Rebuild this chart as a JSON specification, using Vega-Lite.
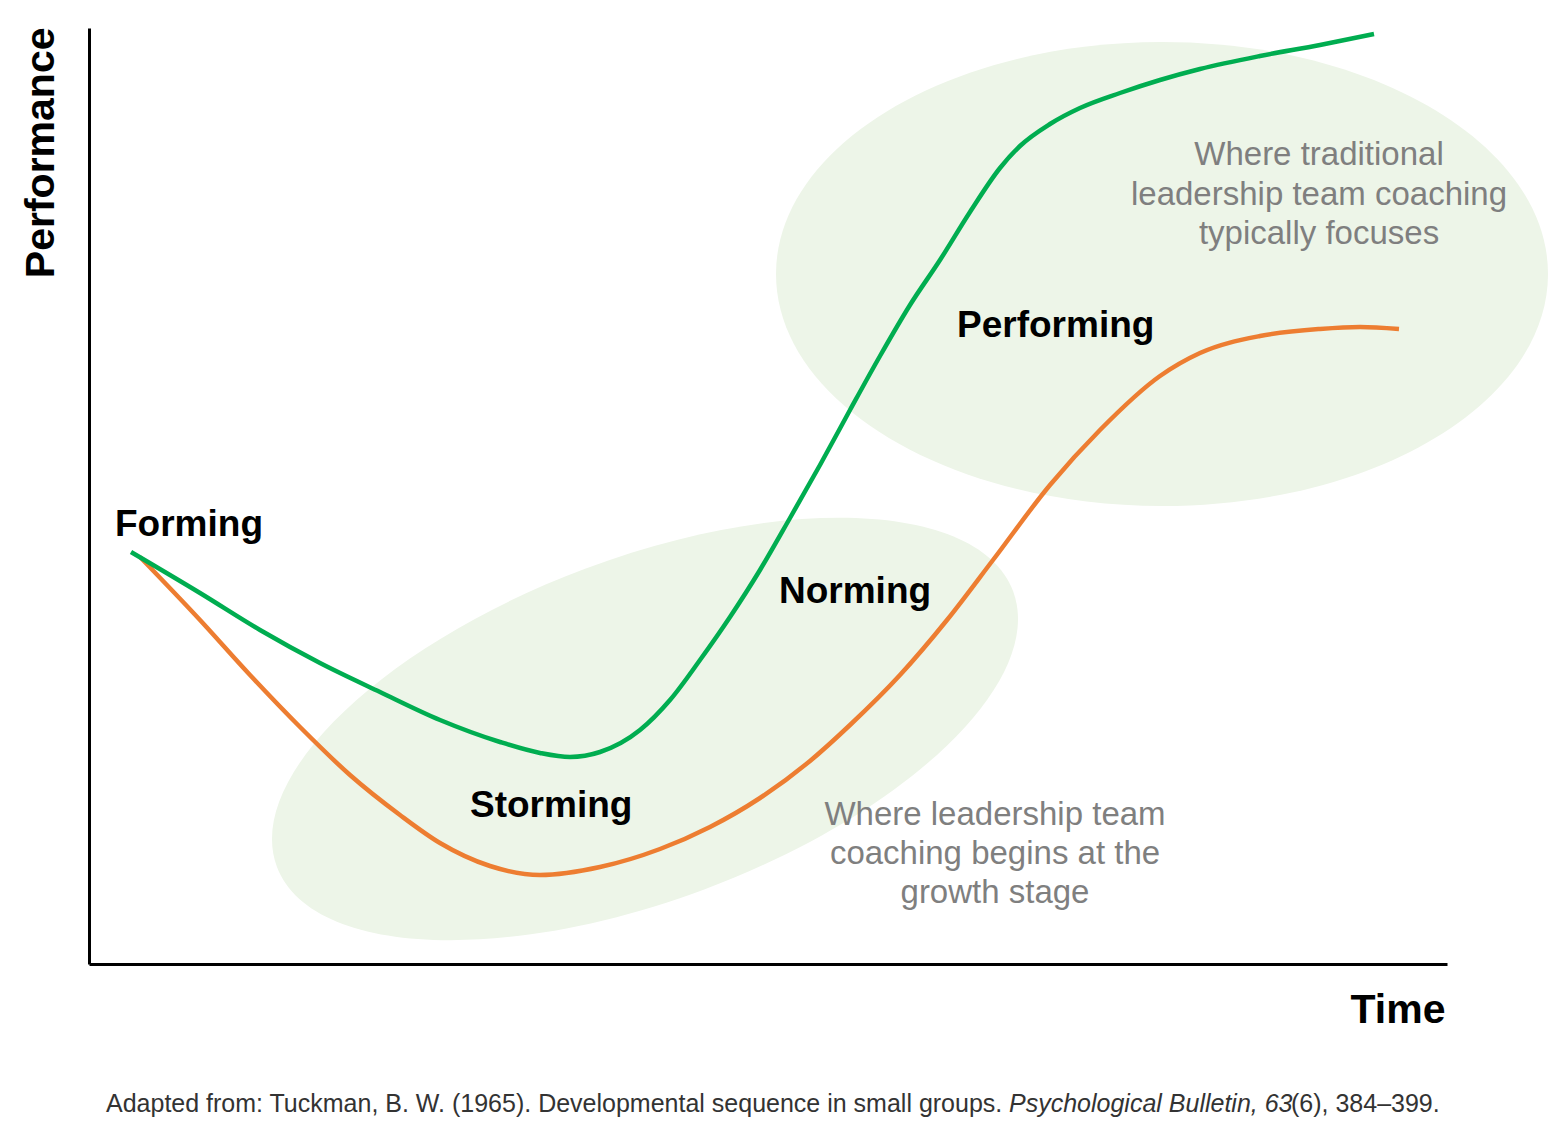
{
  "$schema": "https://vega.github.io/schema/vega-lite/v6.json",
  "width": 1358,
  "height": 936,
  "autosize": {"type": "none"},
  "padding": {"left": 89, "top": 28, "right": 101, "bottom": 169},
  "background": "white",
  "config": {"view": {"stroke": null}, "font": "Liberation Sans"},
  "datasets": {
    "zones": [
      {"zone": "growth", "t": 556, "p": 235},
      {"zone": "traditional", "t": 1073, "p": 690}
    ],
    "curves": [
      {"series": "orange", "t": 51, "p": 407},
      {"series": "orange", "t": 111, "p": 344},
      {"series": "orange", "t": 161, "p": 289},
      {"series": "orange", "t": 211, "p": 237},
      {"series": "orange", "t": 261, "p": 189},
      {"series": "orange", "t": 311, "p": 149},
      {"series": "orange", "t": 351, "p": 121},
      {"series": "orange", "t": 401, "p": 98},
      {"series": "orange", "t": 451, "p": 89},
      {"series": "orange", "t": 511, "p": 97},
      {"series": "orange", "t": 571, "p": 115},
      {"series": "orange", "t": 621, "p": 137},
      {"series": "orange", "t": 671, "p": 166},
      {"series": "orange", "t": 721, "p": 203},
      {"series": "orange", "t": 761, "p": 239},
      {"series": "orange", "t": 811, "p": 289},
      {"series": "orange", "t": 858, "p": 344},
      {"series": "orange", "t": 904, "p": 404},
      {"series": "orange", "t": 961, "p": 479},
      {"series": "orange", "t": 1011, "p": 534},
      {"series": "orange", "t": 1071, "p": 588},
      {"series": "orange", "t": 1111, "p": 611},
      {"series": "orange", "t": 1171, "p": 628},
      {"series": "orange", "t": 1231, "p": 635},
      {"series": "orange", "t": 1271, "p": 637},
      {"series": "orange", "t": 1310, "p": 635},
      {"series": "green", "t": 42, "p": 412},
      {"series": "green", "t": 111, "p": 371},
      {"series": "green", "t": 171, "p": 334},
      {"series": "green", "t": 231, "p": 301},
      {"series": "green", "t": 291, "p": 272},
      {"series": "green", "t": 351, "p": 244},
      {"series": "green", "t": 411, "p": 222},
      {"series": "green", "t": 451, "p": 211},
      {"series": "green", "t": 481, "p": 207},
      {"series": "green", "t": 511, "p": 212},
      {"series": "green", "t": 551, "p": 234},
      {"series": "green", "t": 581, "p": 264},
      {"series": "green", "t": 611, "p": 304},
      {"series": "green", "t": 641, "p": 347},
      {"series": "green", "t": 671, "p": 394},
      {"series": "green", "t": 701, "p": 446},
      {"series": "green", "t": 731, "p": 499},
      {"series": "green", "t": 761, "p": 554},
      {"series": "green", "t": 791, "p": 608},
      {"series": "green", "t": 821, "p": 659},
      {"series": "green", "t": 851, "p": 704},
      {"series": "green", "t": 881, "p": 752},
      {"series": "green", "t": 911, "p": 796},
      {"series": "green", "t": 931, "p": 818},
      {"series": "green", "t": 961, "p": 840},
      {"series": "green", "t": 991, "p": 856},
      {"series": "green", "t": 1031, "p": 871},
      {"series": "green", "t": 1071, "p": 884},
      {"series": "green", "t": 1111, "p": 895},
      {"series": "green", "t": 1171, "p": 908},
      {"series": "green", "t": 1231, "p": 919},
      {"series": "green", "t": 1285, "p": 930}
    ],
    "stages": [
      {"label": "Forming", "t": 26, "p": 428},
      {"label": "Storming", "t": 381, "p": 147},
      {"label": "Norming", "t": 690, "p": 361},
      {"label": "Performing", "t": 868, "p": 627}
    ],
    "notes": [
      {"label": "Where traditional", "t": 1230, "p": 799},
      {"label": "leadership team coaching", "t": 1230, "p": 759},
      {"label": "typically focuses", "t": 1230, "p": 720},
      {"label": "Where leadership team", "t": 906, "p": 139},
      {"label": "coaching begins at the", "t": 906, "p": 100},
      {"label": "growth stage", "t": 906, "p": 61}
    ],
    "source": [
      {"part": 1, "label": "Adapted from: Tuckman, B. W. (1965). Developmental sequence in small groups.", "t": 17, "p": -148},
      {"part": 2, "label": "Psychological Bulletin, 63", "t": 920, "p": -148},
      {"part": 3, "label": "(6), 384–399.", "t": 1202, "p": -148}
    ]
  },
  "encoding": {
    "x": {
      "field": "t", "type": "quantitative",
      "scale": {"domain": [0, 1358], "nice": false, "zero": false},
      "axis": {
        "title": "Time", "titleFont": "Liberation Sans", "titleFontSize": 41, "titleFontWeight": "bold", "titleColor": "black",
        "titleX": 1356, "titleY": 58, "titleAlign": "right", "titleBaseline": "alphabetic", "titleAnchor": "end",
        "domainColor": "black", "domainWidth": 3, "ticks": false, "labels": false, "grid": false
      }
    },
    "y": {
      "field": "p", "type": "quantitative",
      "scale": {"domain": [0, 936], "nice": false, "zero": false},
      "axis": {
        "title": "Performance", "titleFont": "Liberation Sans", "titleFontSize": 41, "titleFontWeight": "bold", "titleColor": "black",
        "titleAngle": 270, "titleX": -36, "titleY": -1, "titleAlign": "right", "titleBaseline": "alphabetic",
        "domainColor": "black", "domainWidth": 3, "ticks": false, "labels": false, "grid": false
      }
    }
  },
  "layer": [
    {
      "data": {"name": "zones"},
      "transform": [{"filter": "datum.zone == 'traditional'"}],
      "mark": {
        "type": "point", "filled": true, "fill": "#EDF5E8", "opacity": 1, "strokeWidth": 0, "size": 595984,
        "shape": "M 1 0 C 1 0.3319 0.5523 0.601 0 0.601 C -0.5523 0.601 -1 0.3319 -1 0 C -1 -0.3319 -0.5523 -0.601 0 -0.601 C 0.5523 -0.601 1 -0.3319 1 0 Z"
      }
    },
    {
      "data": {"name": "zones"},
      "transform": [{"filter": "datum.zone == 'growth'"}],
      "mark": {
        "type": "point", "filled": true, "fill": "#EDF5E8", "opacity": 1, "strokeWidth": 0, "size": 617796, "angle": -20.5,
        "shape": "M 1 0 C 1 0.2402 0.5523 0.435 0 0.435 C -0.5523 0.435 -1 0.2402 -1 0 C -1 -0.2402 -0.5523 -0.435 0 -0.435 C 0.5523 -0.435 1 -0.2402 1 0 Z"
      }
    },
    {
      "data": {"name": "curves"},
      "transform": [{"filter": "datum.series == 'orange'"}],
      "mark": {"type": "line", "color": "#ED7D31", "strokeWidth": 4.5, "interpolate": "monotone"}
    },
    {
      "data": {"name": "curves"},
      "transform": [{"filter": "datum.series == 'green'"}],
      "mark": {"type": "line", "color": "#00AD50", "strokeWidth": 4.5, "interpolate": "monotone"}
    },
    {
      "data": {"name": "stages"},
      "mark": {"type": "text", "font": "Liberation Sans", "fontSize": 37, "fontWeight": "bold", "color": "black", "align": "left", "baseline": "alphabetic"},
      "encoding": {"text": {"field": "label"}}
    },
    {
      "data": {"name": "notes"},
      "mark": {"type": "text", "font": "Liberation Sans", "fontSize": 33, "color": "#7F7F7F", "align": "center", "baseline": "alphabetic"},
      "encoding": {"text": {"field": "label"}}
    },
    {
      "data": {"name": "source"},
      "transform": [{"filter": "datum.part != 2"}],
      "mark": {"type": "text", "font": "Liberation Sans", "fontSize": 25, "color": "#333333", "align": "left", "baseline": "alphabetic"},
      "encoding": {"text": {"field": "label"}}
    },
    {
      "data": {"name": "source"},
      "transform": [{"filter": "datum.part == 2"}],
      "mark": {"type": "text", "font": "Liberation Sans", "fontSize": 25, "fontStyle": "italic", "color": "#333333", "align": "left", "baseline": "alphabetic"},
      "encoding": {"text": {"field": "label"}}
    }
  ]
}
